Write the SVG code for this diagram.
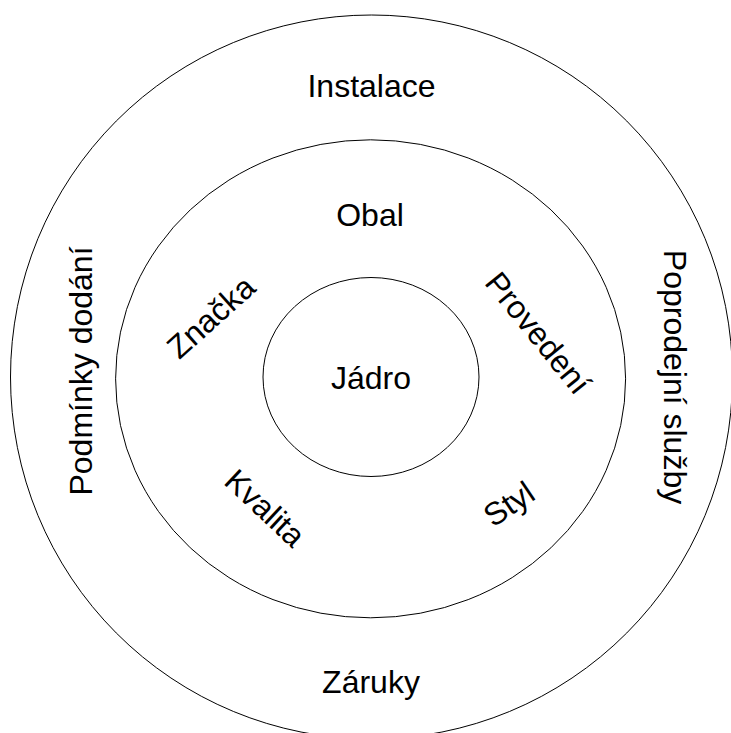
<svg xmlns="http://www.w3.org/2000/svg" width="731" height="733" viewBox="0 0 731 733">
  <style>
    .ring { fill: none; stroke: #000; stroke-width: 1; }
    .lbl { font-family: "Liberation Sans", Arial, sans-serif; font-size: 32px; fill: #000; text-anchor: middle; }
  </style>
  <rect width="731" height="733" fill="#fff"/>

  <!-- outer ring: augmented product -->
  <g id="outer">
    <ellipse class="ring" cx="371.5" cy="377" rx="361" ry="362"/>
    <text class="lbl" x="371.5" y="97">Instalace</text>
    <text class="lbl" x="371" y="692.5">Záruky</text>
    <text class="lbl" transform="translate(92 371) rotate(-90)">Podmínky dodání</text>
    <text class="lbl" transform="translate(664 377) rotate(90)">Poprodejní služby</text>
  </g>

  <!-- middle ring: actual product -->
  <g id="middle">
    <ellipse class="ring" cx="370.6" cy="378.8" rx="255" ry="239"/>
    <text class="lbl" x="370" y="226">Obal</text>
    <text class="lbl" transform="translate(211 317) rotate(-42)" y="11">Značka</text>
    <text class="lbl" transform="translate(538 333) rotate(51)" y="11">Provedení</text>
    <text class="lbl" transform="translate(265 508) rotate(43)" y="11">Kvalita</text>
    <text class="lbl" transform="translate(509 504) rotate(-34)" y="11">Styl</text>
  </g>

  <!-- inner ring: core -->
  <g id="core">
    <ellipse class="ring" cx="371" cy="377" rx="108" ry="99.5"/>
    <text class="lbl" x="371" y="389">Jádro</text>
  </g>

  <g id="connectors"/>
</svg>
